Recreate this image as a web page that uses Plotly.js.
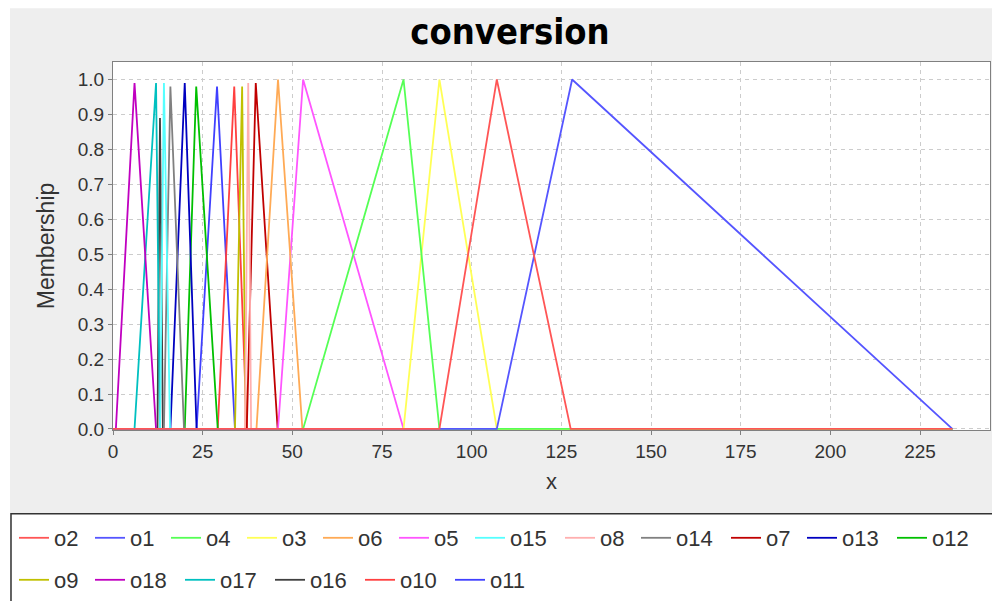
<!DOCTYPE html>
<html>
<head>
<meta charset="utf-8">
<script src="https://cdn.plot.ly/plotly-3.0.1.min.js"></script>
<style>
  html, body { margin: 0; padding: 0; background: #ffffff; }
  #chart { width: 992px; height: 601px; }
</style>
</head>
<body>
<div id="chart"></div>
<script>
// ---- data ----
const seriesNames = ['o2','o1','o4','o3','o6','o5','o15','o8','o14','o7','o13','o12','o9','o18','o17','o16','o10','o11'];
const seriesColors = ['#FF5555','#5555FF','#55FF55','#FFFF55','#FFAA55','#FF55FF','#55FFFF','#FFAFAF','#808080','#C00000','#0000C0','#00C000','#C0C000','#C000C0','#00C0C0','#404040','#FF4040','#4040FF'];
const footLeft  = [91,  107, 53, 81, 40,   46, 13.1, 36.8, 14.2, 37.3, 16,   20,   34, 0.8, 6,    12.4, 29.2, 23.3];
const peakX     = [107, 128, 81, 91, 46,   53, 14.2, 37.7, 16,   39.8, 20,   23.2, 36, 6,   12,   13.1, 33.8, 29];
const footRight = [127.6, 234, 91, 107, 52.8, 81, 15.9, 38.5, 19.8, 45.9, 23.3, 29.2, 37, 12, 13.1, 13.9, 37.3, 34];
const peakY     = [1.0, 1.0, 1.0, 1.0, 1.0, 1.0, 0.99, 0.99, 0.98, 0.99, 0.99, 0.98, 0.98, 0.99, 0.99, 0.89, 0.98, 0.98];
const universe  = [0, 234];
const xTickVals = [0, 25, 50, 75, 100, 125, 150, 175, 200, 225];
const yTickVals = [0.0, 0.1, 0.2, 0.3, 0.4, 0.5, 0.6, 0.7, 0.8, 0.9, 1.0];
const firstRowCount = 12;

// ---- build traces (series 0 drawn on top, like the original) ----
const traces = [];
for (let i = seriesNames.length - 1; i >= 0; i--) {
  traces.push({
    type: 'scatter',
    mode: 'lines',
    name: seriesNames[i],
    x: [universe[0], footLeft[i], peakX[i], footRight[i], universe[1]],
    y: [0, 0, peakY[i], 0, 0],
    line: { color: seriesColors[i], width: 1.8 },
    legend: i < firstRowCount ? 'legend' : 'legend2',
    legendrank: i + 1,
    legendwidth: 14 * seriesNames[i].length + 3,
    hoverinfo: 'x+y+name'
  });
}

// plot area in pixels: left 113, right 990, top 62, bottom 431
const L = 113, R = 990, T = 62, B = 431, W = 992, H = 601;
const px = v => (v - L) / (R - L);
const py = v => (B - v) / (B - T);

const legendFont = { family: '"Liberation Sans", Arial, sans-serif', size: 22, color: '#333333' };
const tickFont = { family: '"Liberation Sans", Arial, sans-serif', size: 19, color: '#333333' };

const layout = {
  width: W, height: H,
  margin: { l: L, r: W - R, t: T, b: H - B, pad: 0 },
  paper_bgcolor: '#EEEEEE',
  plot_bgcolor: '#FFFFFF',
  showlegend: true,
  title: {
    text: 'conversion',
    font: { family: '"Liberation Sans Narrow", "DejaVu Sans Condensed", "Liberation Sans", sans-serif', size: 36, color: '#000000', weight: 'bold' },
    x: px(510), xanchor: 'center', xref: 'paper',
    y: 0.948, yanchor: 'middle'
  },
  xaxis: {
    range: [0, 244.5],
    tickvals: xTickVals,
    ticktext: xTickVals.map(String),
    tickfont: tickFont,
    ticks: 'outside', ticklen: 4, tickcolor: '#808080',
    showline: true, linecolor: '#808080', linewidth: 1, mirror: true,
    showgrid: true, gridcolor: '#CCCCCC', griddash: '4px,4px', gridwidth: 1,
    zeroline: false, layer: 'below traces',
    title: { text: 'x', font: { family: '"Liberation Sans", Arial, sans-serif', size: 22, color: '#333333' }, standoff: 12 }
  },
  yaxis: {
    range: [-0.003, 1.05],
    tickvals: yTickVals,
    tickformat: '.1f',
    tickfont: tickFont,
    ticks: 'outside', ticklen: 4, tickcolor: '#808080',
    showline: true, linecolor: '#808080', linewidth: 1, mirror: true,
    showgrid: true, gridcolor: '#CCCCCC', griddash: '4px,4px', gridwidth: 1,
    zeroline: false, layer: 'below traces',
    title: { text: 'Membership', font: { family: '"Liberation Sans", Arial, sans-serif', size: 23, color: '#333333' }, standoff: 16 }
  },
  legend: {
    orientation: 'h', x: px(14), xanchor: 'left', y: py(538), yanchor: 'middle',
    bgcolor: 'rgba(0,0,0,0)', borderwidth: 0, font: legendFont, traceorder: 'normal'
  },
  legend2: {
    orientation: 'h', x: px(14), xanchor: 'left', y: py(580), yanchor: 'middle',
    bgcolor: 'rgba(0,0,0,0)', borderwidth: 0, font: legendFont, traceorder: 'normal'
  },
  shapes: [
    { type: 'rect', xref: 'paper', yref: 'paper', x0: px(-5), x1: px(10), y0: py(-5), y1: py(610), fillcolor: '#FFFFFF', line: { width: 0 }, layer: 'below' },
    { type: 'rect', xref: 'paper', yref: 'paper', x0: px(-5), x1: px(1000), y0: py(-5), y1: py(8), fillcolor: '#FFFFFF', line: { width: 0 }, layer: 'below' },
    { type: 'rect', xref: 'paper', yref: 'paper', x0: px(11), x1: px(1000), y0: py(515), y1: py(610), fillcolor: '#FFFFFF', line: { color: '#333333', width: 1.5 }, layer: 'below' }
  ]
};

Plotly.newPlot('chart', traces, layout, { displayModeBar: false, staticPlot: false });
</script>
</body>
</html>
